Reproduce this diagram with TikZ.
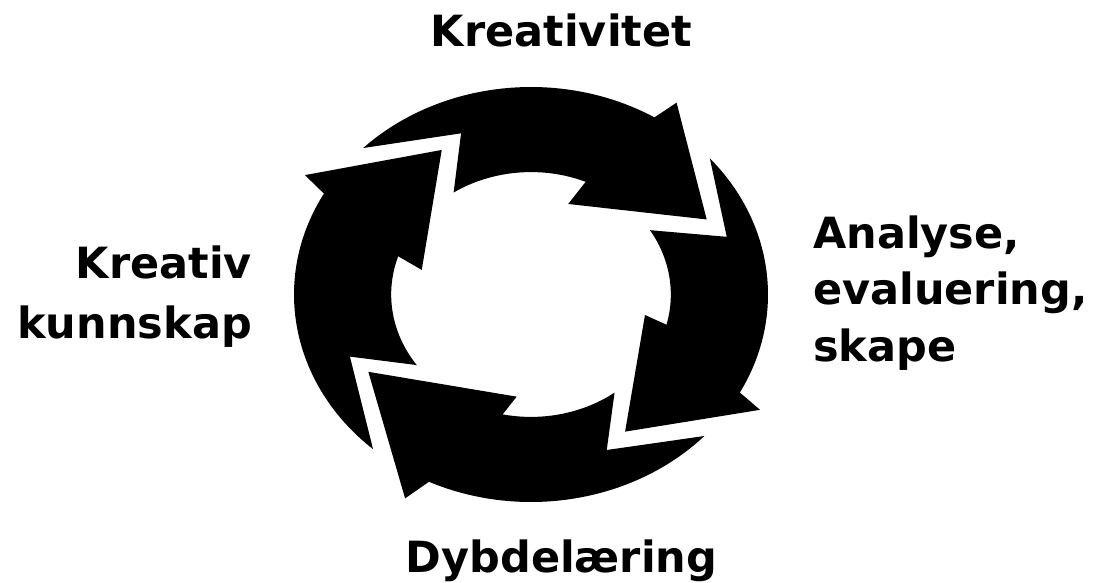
\documentclass[tikz,border=0pt]{standalone}
\usepackage{fontspec}
\setmainfont{DejaVu Sans}
\begin{document}
\begin{tikzpicture}[x=1pt,y=-1pt,
  cyc/.style={fill=black},
  lbl/.style={inner sep=0pt, text=black}]
\useasboundingbox (0,0) rectangle (1101,583);
\begin{scope}[shift={(531,294.5)}, x=237pt, y=207.5pt]
  % top arrow
  \fill[cyc] (135.1:1) arc[start angle=135.1, end angle=58.6, radius=1]
    -- (56.4:1.110) -- (26.0:0.825) -- (70.2:0.4637) -- (67.0:0.59)
    arc[start angle=67.0, end angle=123.6, radius=0.59]
    -- (110.8:0.831) -- cycle;
  % right arrow
  \fill[cyc] (41.0:1) arc[start angle=41.0, end angle=-28.2, radius=1]
    -- (-29.9:1.115) -- (-59.0:0.771) -- (-11.6:0.491) -- (-14.3:0.59)
    arc[start angle=-14.3, end angle=31.7, radius=0.59]
    -- (18.6:0.8715) -- cycle;
  % bottom arrow
  \fill[cyc] (-43:1) arc[start angle=-43, end angle=-115.5, radius=1]
    -- (-118.4:1.117) -- (-151.5:0.781) -- (-97.0:0.496) -- (-101.7:0.59)
    arc[start angle=-101.7, end angle=-53.3, radius=0.59]
    -- (-66.9:0.8146) -- cycle;
  % left arrow
  \fill[cyc] (228.2:1) arc[start angle=228.2, end angle=150.9, radius=1]
    -- (148.9:1.114) -- (118.4:0.792) -- (165.6:0.476) -- (161.8:0.59)
    arc[start angle=161.8, end angle=215.2, radius=0.59]
    -- (201.4:0.8205) -- cycle;
\end{scope}
\node[lbl, font=\fontsize{43}{60}\selectfont\bfseries, anchor=base] (kre) at (561.5,47) {Kreativitet};
\node[lbl, font=\fontsize{43}{56.5}\selectfont\bfseries, align=left, anchor=base west] (ana) at (813,361) {Analyse,\\evaluering,\\skape};
\node[lbl, font=\fontsize{43}{60}\selectfont\bfseries, align=right, anchor=base east] (kk) at (252,338) {Kreativ\\kunnskap};
\node[lbl, font=\fontsize{43}{60}\selectfont\bfseries, anchor=base] (dyb) at (561.5,572) {Dybdelæring};
\end{tikzpicture}
\end{document}
